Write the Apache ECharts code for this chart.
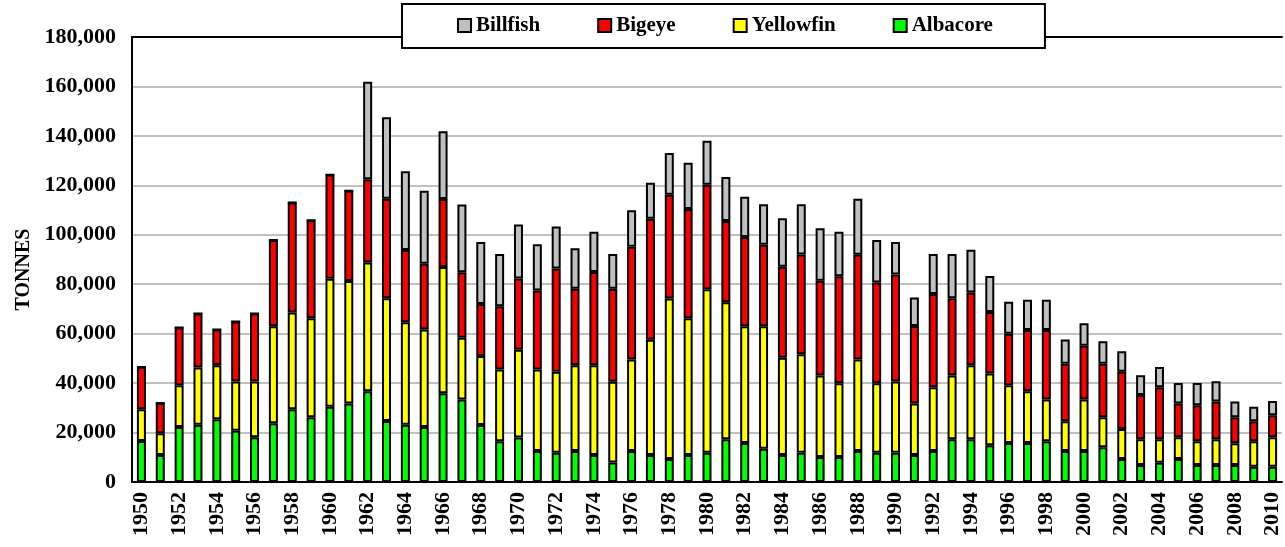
<!DOCTYPE html>
<html>
<head>
<meta charset="utf-8">
<script src="https://cdn.jsdelivr.net/npm/echarts@6/dist/echarts.min.js"></script>
<style>
  html, body { margin: 0; padding: 0; background: #fff; }
  #chart { width: 1285px; height: 547px; }
</style>
</head>
<body>
<div id="chart"></div>
<script>
const years = [
  "1950","1951","1952","1953","1954","1955","1956","1957","1958","1959",
  "1960","1961","1962","1963","1964","1965","1966","1967","1968","1969",
  "1970","1971","1972","1973","1974","1975","1976","1977","1978","1979",
  "1980","1981","1982","1983","1984","1985","1986","1987","1988","1989",
  "1990","1991","1992","1993","1994","1995","1996","1997","1998","1999",
  "2000","2001","2002","2003","2004","2005","2006","2007","2008","2009",
  "2010"
];

const albacore = [
  16600,10900,22200,23200,25400,20700,18100,23800,29400,26200,
  30400,31800,36700,24700,23200,22200,35900,33400,23100,16500,
  18000,12500,11800,12500,10900,7900,12500,10900,9300,10900,
  11800,17300,15800,13400,10900,11800,10100,10100,12500,11800,
  11800,10900,12500,17300,17300,14900,15800,15800,16500,12500,
  12500,14100,9300,6900,7800,9300,6900,6900,6900,6200,
  6200
];

const yellowfin = [
  12800,8800,16900,23100,21800,20000,22600,39200,39200,40000,
  51800,49500,52100,49600,41400,39500,51100,24900,27900,29000,
  35500,33000,32800,34700,36300,32700,37100,46600,64900,55300,
  66200,55400,47200,49600,39400,39900,33000,29800,37100,28100,
  28900,20900,25800,25800,29900,29000,23300,20900,16900,12100,
  20900,12100,12100,10400,9500,8800,9600,10400,8800,10300,
  11900
];

const bigeye = [
  17100,12300,23400,21900,14500,24200,27500,34900,44500,39700,
  42100,36500,33700,40300,29200,26600,27500,26500,21000,25600,
  28800,32000,41800,31000,37700,37600,45600,49000,42000,44200,
  42200,32900,36100,33000,36800,40300,38300,43300,42300,40800,
  43200,31300,37700,31200,29500,24900,20900,24800,28100,23200,
  21700,21600,23200,17900,21000,13700,14500,15300,10500,8100,
  8900
];

const billfish = [
  0,0,0,0,0,0,0,0,0,0,
  0,0,39400,32900,31900,29500,27400,27400,25100,21100,
  21900,18700,16900,16400,16300,14000,14700,14500,16900,18700,
  17800,17800,16300,16300,19600,20300,21200,18000,22700,17200,
  13200,11500,16200,17900,17200,14500,12900,12200,12200,9800,
  9100,9100,8300,8000,8200,8200,9000,8200,6400,5800,
  5800
];

const yTicks = { min: 0, max: 180000, interval: 20000 };

const font = "'Liberation Serif', 'Times New Roman', serif";

const chart = echarts.init(document.getElementById("chart"));

function makeSeries(name, data, color) {
  return {
    name: name,
    type: "bar",
    stack: "catch",
    data: data,
    barWidth: 9,
    itemStyle: { color: color, borderColor: "#000", borderWidth: 2 },
    emphasis: { disabled: true }
  };
}

const option = {
  animation: false,
  backgroundColor: "#fff",
  textStyle: { fontFamily: font },
  grid: { left: 132, right: 3, top: 37, bottom: 65 },
  legend: {
    data: ["Billfish", "Bigeye", "Yellowfin", "Albacore"],
    left: 402,
    top: 4,
    padding: [11, 52, 12, 55],
    itemGap: 57,
    itemWidth: 13,
    itemHeight: 13,
    icon: "rect",
    backgroundColor: "#fff",
    borderColor: "#000",
    borderWidth: 2,
    textStyle: { fontFamily: font, fontWeight: "bold", fontSize: 21, color: "#000" }
  },
  xAxis: [
    {
      type: "category",
      data: years,
      axisLine: { lineStyle: { color: "#000", width: 2 } },
      axisTick: { show: false },
      axisLabel: {
        interval: 1,
        rotate: 90,
        margin: 10,
        fontFamily: font,
        fontWeight: "bold",
        fontSize: 22,
        color: "#000"
      }
    },
    {
      type: "category",
      data: years,
      position: "top",
      axisLine: { lineStyle: { color: "#000", width: 2 } },
      axisTick: { show: false },
      axisLabel: { show: false }
    }
  ],
  yAxis: {
    type: "value",
    min: yTicks.min,
    max: yTicks.max,
    interval: yTicks.interval,
    name: "TONNES",
    nameLocation: "middle",
    nameRotate: 90,
    nameGap: 96,
    nameTextStyle: {
      fontFamily: font,
      fontWeight: "bold",
      fontSize: 20,
      color: "#000",
      padding: [0, 20, 0, 0]
    },
    axisLine: { show: true, lineStyle: { color: "#000", width: 2 } },
    axisTick: { show: false },
    splitLine: { lineStyle: { color: "#c0c0c0", width: 2 } },
    axisLabel: {
      margin: 16,
      fontFamily: font,
      fontWeight: "bold",
      fontSize: 22,
      color: "#000",
      formatter: (v) => v.toLocaleString("en-US")
    }
  },
  series: [
    makeSeries("Albacore", albacore, "#00ff00"),
    makeSeries("Yellowfin", yellowfin, "#ffff00"),
    makeSeries("Bigeye", bigeye, "#ff0000"),
    makeSeries("Billfish", billfish, "#c0c0c0")
  ]
};

chart.setOption(option);
</script>
</body>
</html>
